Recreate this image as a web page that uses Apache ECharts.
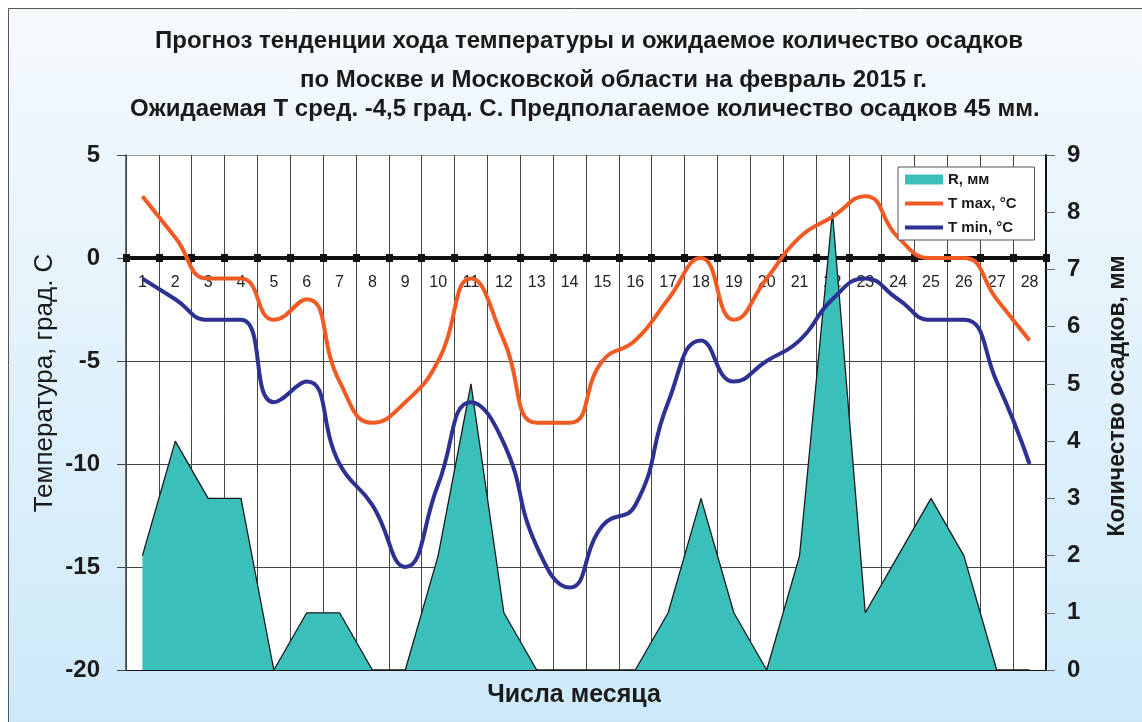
<!DOCTYPE html>
<html>
<head>
<meta charset="utf-8">
<script src="https://cdn.jsdelivr.net/npm/echarts@6/dist/echarts.min.js"></script>
<style>
  html, body { margin: 0; padding: 0; background: #fff; }
  #chart { width: 1142px; height: 722px; }
</style>
</head>
<body>
<div id="chart"></div>
<script>
// ---- data ----
var days = ['1','2','3','4','5','6','7','8','9','10','11','12','13','14','15','16','17','18','19','20','21','22','23','24','25','26','27','28'];
var rain = [2, 4, 3, 3, 0, 1, 1, 0, 0, 2, 5, 1, 0, 0, 0, 0, 1, 3, 1, 0, 2, 8, 1, 2, 3, 2, 0, 0];
var tMax = [3, 1, -1, -1, -3, -2, -6, -8, -7, -5, -1, -4, -8, -8, -5, -4, -2, 0, -3, -1, 1, 2, 3, 1, 0, 0, -2, -4];
var tMin = [-1, -2, -3, -3, -7, -6, -10, -12, -15, -11, -7, -9, -14, -16, -13, -12, -7, -4, -6, -5, -4, -2, -1, -2, -3, -3, -6, -10];
var tempTicks = { min: -20, max: 5, step: 5 };
var rainTicks = { min: 0, max: 9, step: 1 };
var titleLines = [
  'Прогноз тенденции хода температуры и ожидаемое количество осадков',
  'по Москве и Московской области на февраль 2015 г.',
  'Ожидаемая Т сред. -4,5 град. С. Предполагаемое количество осадков 45 мм.'
];
var seriesNames = ['R, мм', 'T max, °C', 'T min, °C'];
var xName = 'Числа месяца';
var yLeftName = 'Температура, град. С';
var yRightName = 'Количество осадков, мм';

var FONT = '"Liberation Sans", Arial, sans-serif';
var FONT_N = '"Liberation Sans Narrow", "Liberation Sans", Arial, sans-serif';
var C_RAIN = '#3abfba', C_MAX = '#f15a22', C_MIN = '#2d3192';

// grid geometry
var GRID_TOP = 155, GRID_BOTTOM_PX = 670;
var plotH = GRID_BOTTOM_PX - GRID_TOP;
// distance of the zero line from top / bottom of the plot, from the temperature scale
var zeroFromTop = plotH * (tempTicks.max - 0) / (tempTicks.max - tempTicks.min);
var zeroFromBottom = plotH - zeroFromTop;

var chart = echarts.init(document.getElementById('chart'));
var titleStyle = { fontFamily: FONT, fontWeight: 'bold', fontSize: 24, color: '#1a1a1a' };

chart.setOption({
  backgroundColor: '#ffffff',
  animation: false,
  graphic: [
    { type: 'rect', z: -10, shape: { x: 8.5, y: 8.5, width: 1200, height: 800 },
      style: { fill: { type: 'linear', x: 0, y: 0, x2: 0, y2: 1, colorStops: [
        { offset: 0, color: '#f6fafd' }, { offset: 1, color: '#c8e7f9' } ] },
        stroke: '#555', lineWidth: 1 } },
    { type: 'text', x: 45, y: 383, rotation: Math.PI / 2, z: 10,
      style: { text: yLeftName, font: '26px ' + FONT, fill: '#1a1a1a', textAlign: 'center', textVerticalAlign: 'middle' } },
    { type: 'text', x: 1118, y: 396, rotation: Math.PI / 2, z: 10,
      style: { text: yRightName, font: 'bold 23px ' + FONT, fill: '#1a1a1a', textAlign: 'center', textVerticalAlign: 'middle' } },
    { type: 'text', x: 574, y: 695, z: 10,
      style: { text: xName, font: 'bold 25px ' + FONT, fill: '#1a1a1a', textAlign: 'center', textVerticalAlign: 'middle' } }
  ],
  title: [
    { text: titleLines[0], left: 155, top: 29, padding: 0, textStyle: titleStyle },
    { text: titleLines[1], left: 300, top: 68, padding: 0, textStyle: titleStyle },
    { text: titleLines[2], left: 130, top: 97, padding: 0, textStyle: titleStyle }
  ],
  legend: {
    orient: 'vertical', left: 898, top: 167,
    backgroundColor: '#fff', borderColor: '#555', borderWidth: 1,
    padding: [5, 18, 5, 5], itemGap: 9, itemWidth: 38, itemHeight: 10,
    textStyle: { fontFamily: FONT_N, fontWeight: 'bold', fontSize: 15, color: '#1a1a1a' },
    data: [
      { name: seriesNames[0], icon: 'rect', itemStyle: { color: C_RAIN, borderWidth: 0 } },
      { name: seriesNames[1], itemStyle: { opacity: 0 }, lineStyle: { width: 4 } },
      { name: seriesNames[2], itemStyle: { opacity: 0 }, lineStyle: { width: 4 } }
    ]
  },
  grid: { left: 126, right: 96, top: GRID_TOP, bottom: 722 - GRID_BOTTOM_PX, show: true,
          backgroundColor: '#ffffff', borderWidth: 0, containLabel: false, outerBoundsMode: 'none' },
  xAxis: [
    {
      type: 'category', data: days, boundaryGap: true, position: 'bottom', offset: -zeroFromBottom,
      axisLine: { onZero: false, lineStyle: { color: '#111', width: 4 } },
      axisTick: { show: true, interval: 0, length: 4, lineStyle: { color: '#111', width: 7 } },
      axisLabel: { interval: 0, margin: 17, fontFamily: FONT, fontSize: 16, color: '#222' },
      splitLine: { show: true, interval: 0, lineStyle: { color: '#444', width: 1 } }
    },
    {
      type: 'category', data: days, boundaryGap: true, position: 'top', offset: -zeroFromTop,
      axisLine: { onZero: false, lineStyle: { color: '#111', width: 4 } },
      axisTick: { show: true, interval: 0, length: 4, lineStyle: { color: '#111', width: 7 } },
      axisLabel: { show: false },
      splitLine: { show: false }
    }
  ],
  yAxis: [
    {
      type: 'value', min: tempTicks.min, max: tempTicks.max, interval: tempTicks.step, position: 'left',
      axisLine: { show: true, onZero: false, lineStyle: { color: '#444', width: 1.5 } },
      axisTick: { show: true, length: 9, lineStyle: { color: '#444' } },
      axisLabel: { margin: 26, fontFamily: FONT, fontWeight: 'bold', fontSize: 24, color: '#1a1a1a' },
      splitLine: { show: true, lineStyle: { color: ['#111', '#444', '#444', '#444', '#444', '#999'], width: 1.2 } }
    },
    {
      type: 'value', min: rainTicks.min, max: rainTicks.max, interval: rainTicks.step, position: 'right',
      axisLine: { show: true, onZero: false, lineStyle: { color: '#111', width: 2 } },
      axisTick: { show: true, length: 9, lineStyle: { color: '#666' } },
      axisLabel: { margin: 21, fontFamily: FONT, fontWeight: 'bold', fontSize: 24, color: '#1a1a1a' },
      splitLine: { show: false }
    }
  ],
  series: [
    {
      name: seriesNames[0], type: 'line', xAxisIndex: 0, yAxisIndex: 1, data: rain,
      symbol: 'none', smooth: false, z: 2,
      itemStyle: { color: C_RAIN },
      lineStyle: { color: '#1a1a1a', width: 1.3 },
      areaStyle: { color: C_RAIN, opacity: 1 }
    },
    {
      name: seriesNames[1], type: 'line', xAxisIndex: 0, yAxisIndex: 0, data: tMax,
      symbol: 'none', smooth: 0.5, z: 3,
      itemStyle: { color: C_MAX }, lineStyle: { color: C_MAX, width: 4 }
    },
    {
      name: seriesNames[2], type: 'line', xAxisIndex: 0, yAxisIndex: 0, data: tMin,
      symbol: 'none', smooth: 0.5, z: 3,
      itemStyle: { color: C_MIN }, lineStyle: { color: C_MIN, width: 4 }
    }
  ]
});
</script>
</body>
</html>
